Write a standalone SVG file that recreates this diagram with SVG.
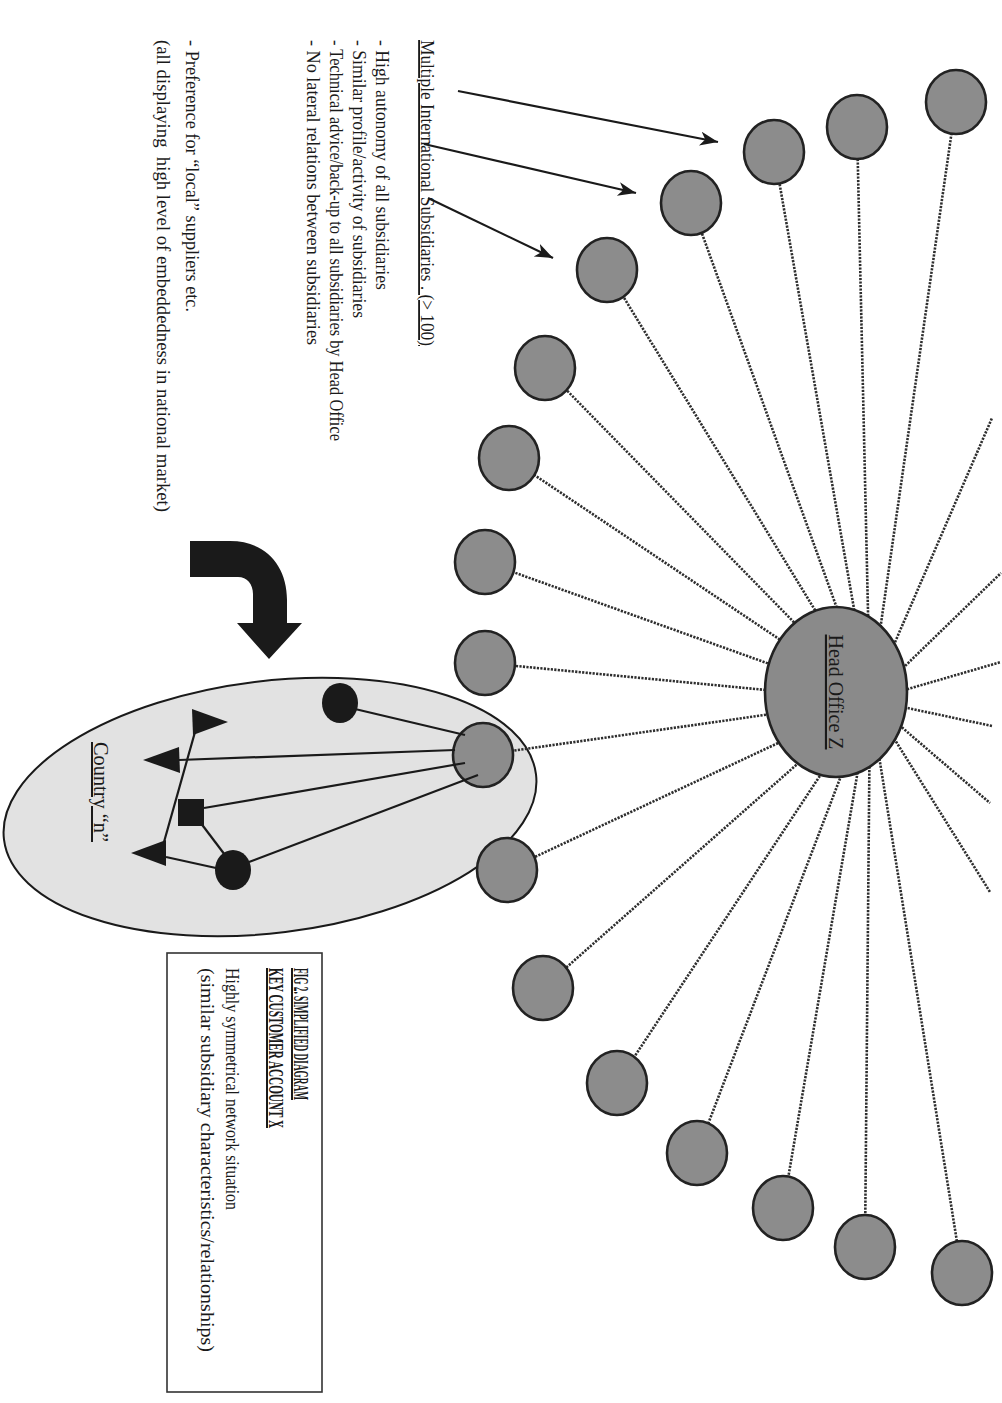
<svg xmlns="http://www.w3.org/2000/svg" width="1002" height="1403" viewBox="0 0 1002 1403">
  <defs>
    <style>
      .txt{font-family:"Liberation Serif","Times New Roman",serif;fill:#1a1a1a;}
      .body{font-size:18.5px;}
      .u{text-decoration:underline;}
      .bold{font-weight:bold;}
      .dot{stroke:#2e2e2e;stroke-width:2.6;stroke-dasharray:2.2 1.3;fill:none;}
      .sub{fill:#8c8c8c;stroke:#222;stroke-width:2.6;}
      .link{stroke:#1a1a1a;stroke-width:2.2;fill:none;}
      .blk{fill:#1a1a1a;}
      .ptr{stroke:#1a1a1a;stroke-width:2.2;fill:none;marker-end:url(#head);}
    </style>
    <marker id="head" markerUnits="userSpaceOnUse" markerWidth="20" markerHeight="16" refX="18" refY="7" orient="auto">
      <path d="M0,0 L18,7 L0,14 L5,7 Z" fill="#1a1a1a"/>
    </marker>
  </defs>

  <rect width="1002" height="1403" fill="#ffffff"/>

  <!-- country region (background of the local network) -->
  <g id="country-n">
    <ellipse cx="270" cy="807" rx="268" ry="126" transform="rotate(-7 270 807)" fill="#e2e2e2" stroke="#1a1a1a" stroke-width="2"/>
  </g>

  <!-- dotted links from the head office to the subsidiaries -->
  <g id="connectors">
    <line class="dot" x1="870" y1="700" x2="956" y2="102"/>
    <line class="dot" x1="870" y1="700" x2="857" y2="127"/>
    <line class="dot" x1="870" y1="700" x2="774" y2="152"/>
    <line class="dot" x1="870" y1="700" x2="691" y2="203"/>
    <line class="dot" x1="870" y1="700" x2="607" y2="270"/>
    <line class="dot" x1="870" y1="700" x2="545" y2="368"/>
    <line class="dot" x1="870" y1="700" x2="509" y2="458"/>
    <line class="dot" x1="870" y1="700" x2="485" y2="562"/>
    <line class="dot" x1="870" y1="700" x2="485" y2="663"/>
    <line class="dot" x1="870" y1="700" x2="483" y2="755"/>
    <line class="dot" x1="870" y1="700" x2="507" y2="870"/>
    <line class="dot" x1="870" y1="700" x2="543" y2="988"/>
    <line class="dot" x1="870" y1="700" x2="617" y2="1083"/>
    <line class="dot" x1="870" y1="700" x2="697" y2="1153"/>
    <line class="dot" x1="870" y1="700" x2="783" y2="1208"/>
    <line class="dot" x1="870" y1="700" x2="865" y2="1247"/>
    <line class="dot" x1="870" y1="700" x2="962" y2="1273"/>
    <!-- links running off the sheet -->
    <line class="dot" x1="870" y1="700" x2="992" y2="418"/>
    <line class="dot" x1="870" y1="700" x2="1001" y2="573"/>
    <line class="dot" x1="870" y1="700" x2="1001" y2="662"/>
    <line class="dot" x1="870" y1="700" x2="992" y2="726"/>
    <line class="dot" x1="870" y1="700" x2="990" y2="803"/>
    <line class="dot" x1="870" y1="700" x2="990" y2="892"/>
    <!-- pointers from the label to the subsidiaries -->
    <line class="ptr" x1="458" y1="91" x2="718" y2="142"/>
    <line class="ptr" x1="424" y1="144" x2="636" y2="193"/>
    <line class="ptr" x1="428" y1="198" x2="553" y2="258"/>
  </g>

  <!-- head office -->
  <g id="head-office">
    <ellipse cx="836" cy="692" rx="71" ry="85" fill="#8a8a8a" stroke="#222" stroke-width="2.6"/>
    <text class="txt u" font-size="21" text-anchor="middle" transform="translate(829,692) rotate(90)" textLength="115" lengthAdjust="spacingAndGlyphs">Head Office Z</text>
  </g>

  <!-- subsidiaries -->
  <g id="subsidiaries">
    <ellipse id="sub-01" class="sub" cx="956" cy="102" rx="30" ry="32"/>
    <ellipse id="sub-02" class="sub" cx="857" cy="127" rx="30" ry="32"/>
    <ellipse id="sub-03" class="sub" cx="774" cy="152" rx="30" ry="32"/>
    <ellipse id="sub-04" class="sub" cx="691" cy="203" rx="30" ry="32"/>
    <ellipse id="sub-05" class="sub" cx="607" cy="270" rx="30" ry="32"/>
    <ellipse id="sub-06" class="sub" cx="545" cy="368" rx="30" ry="32"/>
    <ellipse id="sub-07" class="sub" cx="509" cy="458" rx="30" ry="32"/>
    <ellipse id="sub-08" class="sub" cx="485" cy="562" rx="30" ry="32"/>
    <ellipse id="sub-09" class="sub" cx="485" cy="663" rx="30" ry="32"/>
    <ellipse id="sub-country-n" class="sub" cx="483" cy="755" rx="30" ry="32"/>
    <ellipse id="sub-11" class="sub" cx="507" cy="870" rx="30" ry="32"/>
    <ellipse id="sub-12" class="sub" cx="543" cy="988" rx="30" ry="32"/>
    <ellipse id="sub-13" class="sub" cx="617" cy="1083" rx="30" ry="32"/>
    <ellipse id="sub-14" class="sub" cx="697" cy="1153" rx="30" ry="32"/>
    <ellipse id="sub-15" class="sub" cx="783" cy="1208" rx="30" ry="32"/>
    <ellipse id="sub-16" class="sub" cx="865" cy="1247" rx="30" ry="32"/>
    <ellipse id="sub-17" class="sub" cx="962" cy="1273" rx="30" ry="32"/>
  </g>

  <!-- local network inside country "n" -->
  <g id="country-links">
    <line class="link" x1="465" y1="735" x2="355" y2="709"/>
    <line class="link" x1="455" y1="750" x2="179" y2="760"/>
    <line class="link" x1="465" y1="763" x2="204" y2="808"/>
    <line class="link" x1="478" y1="775" x2="249" y2="862"/>
    <line class="link" x1="200" y1="822" x2="225" y2="855"/>
    <line class="link" x1="216" y1="868" x2="166" y2="857"/>
    <line class="link" x1="164" y1="842" x2="195" y2="732"/>
  </g>
  <g id="local-nodes">
    <ellipse id="local-circle-1" class="blk" cx="340" cy="703" rx="18" ry="20"/>
    <ellipse id="local-circle-2" class="blk" cx="233" cy="870" rx="18" ry="20"/>
    <rect id="local-square" class="blk" x="178" y="799" width="26" height="27"/>
    <polygon id="local-tri-1" class="blk" points="192,709 193,735 228,722"/>
    <polygon id="local-tri-2" class="blk" points="143,760 179,747 180,773"/>
    <polygon id="local-tri-3" class="blk" points="131,853 166,840 166,866"/>
    <text class="txt u" font-size="20" transform="translate(94,742) rotate(90)" textLength="100" lengthAdjust="spacingAndGlyphs">Country “n”</text>
  </g>

  <!-- bent arrow pointing down into the country region -->
  <g id="bent-arrow">
    <path d="M190,541 L230,541 C266,541 287,566 287,600 L287,623 L302,623 L269,659 L237,623 L253,623 L253,594 C253,584 247,577 238,577 L190,577 Z" fill="#1a1a1a"/>
  </g>

  <!-- notes -->
  <g id="notes" class="txt body">
    <text class="u" transform="translate(421,40) rotate(90)" textLength="306" lengthAdjust="spacingAndGlyphs">Multiple International Subsidiaries . (&gt; 100)</text>
    <text transform="translate(376,40) rotate(90)" textLength="250" lengthAdjust="spacingAndGlyphs">- High autonomy of all subsidiaries</text>
    <text transform="translate(353,40) rotate(90)" textLength="278" lengthAdjust="spacingAndGlyphs">- Similar profile/activity of subsidiaries</text>
    <text transform="translate(330,40) rotate(90)" textLength="401" lengthAdjust="spacingAndGlyphs">- Technical advice/back-up to all subsidiaries by Head Office</text>
    <text transform="translate(307,40) rotate(90)" textLength="305" lengthAdjust="spacingAndGlyphs">- No lateral relations between subsidiaries</text>
    <text transform="translate(186,40) rotate(90)" textLength="272" lengthAdjust="spacingAndGlyphs">-  Preference for “local” suppliers etc.</text>
    <text xml:space="preserve" transform="translate(157,40) rotate(90)" textLength="472" lengthAdjust="spacingAndGlyphs">(all displaying  high level of embeddedness in national market)</text>
  </g>

  <!-- caption box -->
  <g id="caption">
    <rect x="167" y="953" width="155" height="439" fill="none" stroke="#333" stroke-width="1.6"/>
    <text class="txt bold u" font-size="20" transform="translate(294,968) rotate(90)" textLength="132" lengthAdjust="spacingAndGlyphs">FIG 2. SIMPLIFIED DIAGRAM</text>
    <text class="txt bold u" font-size="20" transform="translate(269,968) rotate(90)" textLength="160" lengthAdjust="spacingAndGlyphs">KEY CUSTOMER ACCOUNT X</text>
    <text class="txt body" transform="translate(226,968) rotate(90)" textLength="242" lengthAdjust="spacingAndGlyphs">Highly symmetrical network situation</text>
    <text class="txt body" transform="translate(201,968) rotate(90)" textLength="384" lengthAdjust="spacingAndGlyphs">(similar subsidiary characteristics/relationships)</text>
  </g>
</svg>
